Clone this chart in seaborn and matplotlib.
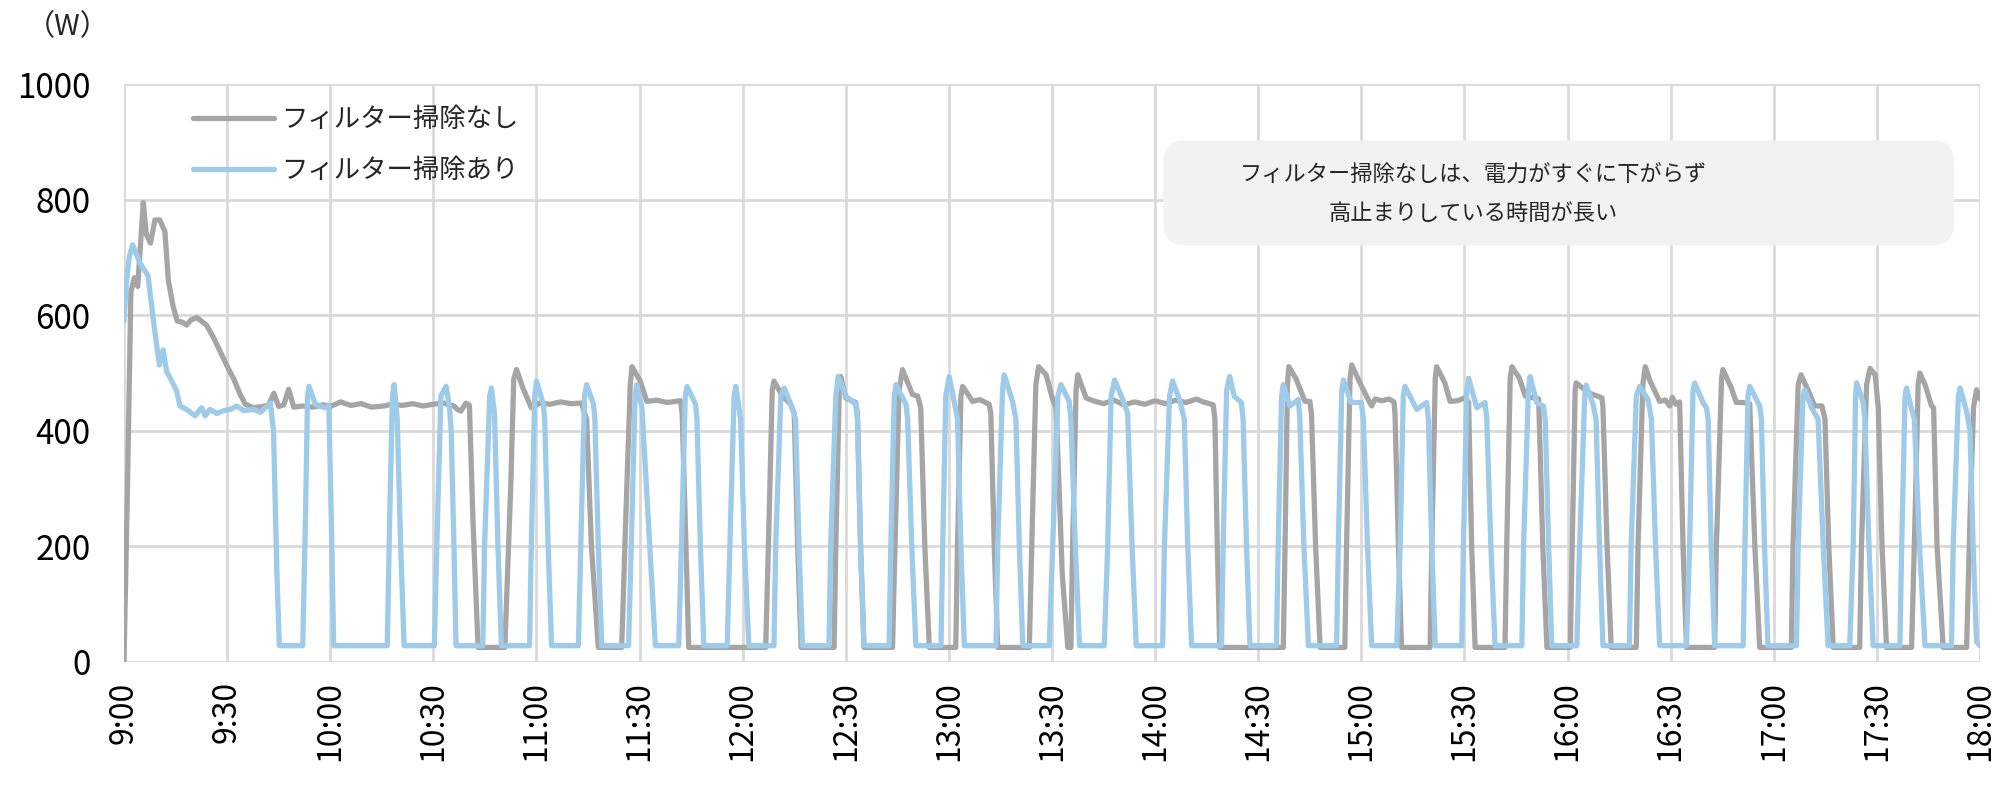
import numpy as np
import pandas as pd
import matplotlib
matplotlib.use('Agg')
import matplotlib.pyplot as plt
from matplotlib.patches import FancyBboxPatch
import seaborn as sns

# minutes after 9:00 and power (W)
gray_t = [0, 1, 2, 3, 4, 5.6, 6.5, 7.7, 9, 10.4, 11.9, 12.9, 14.3, 15.5, 17, 18.2, 19.5, 21.2, 22.5, 24,
          26, 28, 30, 31.9, 33.8, 35.3, 37.7, 40, 42, 43.6, 45, 46.5, 47.9, 49.4, 52, 55, 58, 60, 63, 66,
          69, 72, 75.7, 78, 81, 84, 87, 90, 93, 96, 97, 98, 99.5, 100.5, 101.5, 103,
          110.8, 112.5, 113.4, 114.2, 116, 118.5, 121, 124, 127, 130, 133.1, 134.6, 136, 138,
          144.8, 146, 147.3, 147.8, 150.2, 152.1, 155, 158, 161.9, 162.4, 163.5, 164.3,
          186.7, 187.7, 188.6, 189.1, 191.6, 194, 195, 196, 197,
          206.6, 207.1, 208.1, 208.5, 210, 212.9, 213.4, 214.3, 215.3,
          223.6, 224.1, 225.5, 226.5, 229.4, 230.9, 231.8, 233, 234.3,
          242, 242.5, 243.5, 244, 246.9, 249, 251.7, 252.2, 253.2, 254.2,
          263.4, 263.9, 265.3, 266.1, 268.3, 270.2, 271.2, 273, 274.6, 275.5,
          276, 277, 277.5, 279.9, 282, 285, 288, 291, 294, 297, 300, 303, 306, 309, 312, 314, 316.9, 317.4, 318.1, 318.8,
          337.3, 337.8, 338.5, 338.9, 341, 343.6, 345, 345.5, 346.7, 348,
          355.2, 355.7, 356.7, 357.2, 359.6, 361.5, 363, 364, 366, 368, 369.5, 369.8, 370.8, 371.7,
          380, 380.5, 381.5, 381.9, 384.3, 385.8, 388, 390, 391.2, 392.1, 393.1,
          401.8, 402.3, 403.3, 403.8, 406, 407.7, 410, 411.6, 412.8, 414,
          420.8, 421.5, 422.2, 422.5, 426, 430, 430.3, 431.5, 432.7,
          440, 440.5, 441.9, 442.6, 444, 446.8, 448.5, 449.7, 450.5, 451.5, 452.6, 453.6, 454.6,
          462.8, 463.3, 464.8, 465.2, 467.6, 469.1, 471, 473, 474.5, 475.9,
          485.1, 485.6, 487.1, 487.9, 490, 491.9, 494, 494.9, 496, 497.3,
          505, 505.5, 507, 508, 509.5, 510.4, 511.5, 512.8,
          520.1, 521.1, 522, 522.5, 524, 525.9, 526.5, 527.5, 529.3,
          536.1, 537.1, 538.1, 539, 540]
gray_w = [0, 300, 640, 665, 650, 795, 740, 725, 765, 765, 745, 660, 615, 590, 588, 583, 592, 596, 590, 583,
          562, 537, 512, 490, 463, 446, 440, 442, 444, 465, 442, 445, 472, 441, 443, 441, 445, 442, 450, 444,
          447, 441, 443, 446, 444, 447, 443, 446, 448, 443, 437, 434, 448, 444, 250, 25,
          25, 300, 490, 506, 475, 440, 448, 446, 450, 447, 448, 420, 200, 25,
          25, 250, 480, 511, 486, 451, 453, 449, 452, 430, 200, 25,
          25, 250, 470, 486, 460, 446, 430, 200, 25,
          25, 200, 470, 494, 457, 449, 430, 200, 25,
          25, 150, 470, 506, 463, 460, 440, 200, 25,
          25, 200, 460, 477, 451, 454, 446, 430, 200, 25,
          25, 150, 480, 511, 497, 454, 440, 150, 25, 25,
          200, 470, 497, 457, 452, 447, 453, 445, 450, 446, 452, 447, 453, 449, 455, 450, 445, 420, 200, 25,
          25, 200, 480, 511, 490, 451, 451, 430, 200, 25,
          25, 200, 490, 514, 483, 460, 443, 455, 452, 455, 450, 430, 200, 25,
          25, 200, 490, 511, 483, 451, 452, 457, 450, 200, 25,
          25, 200, 490, 511, 491, 460, 457, 455, 200, 25,
          25, 250, 470, 483, 466, 457, 440, 200, 25,
          25, 200, 480, 511, 486, 451, 453, 443, 458, 446, 450, 200, 25,
          25, 200, 490, 506, 475, 449, 449, 447, 200, 25,
          25, 200, 480, 497, 470, 443, 443, 420, 200, 25,
          25, 200, 480, 508, 497, 440, 200, 25,
          25, 250, 480, 500, 480, 443, 440, 200, 25,
          25, 250, 440, 471, 455]

blue_t = [0, 0.7, 1.5, 2.5, 4.6, 7, 8.5, 9.5, 10.3, 11.4, 12.4, 13.9, 15.3, 16.3, 18.2, 20.7, 22.6, 23.6,
          25, 27, 29, 30.9, 32.8, 34.8, 37.7, 39.7, 42.6, 43.5, 44.5, 45.2,
          52, 52.8, 53.4, 53.8, 55.7, 58.2, 59.6, 60.3, 61,
          76.6, 77.3, 78.1, 78.6, 79.5, 80.5, 81.5,
          90.3, 91, 92.2, 93.7, 94.7, 95.2, 96, 96.6,
          104.4, 104.9, 106.4, 106.9, 107.8, 108.8, 109.8,
          118, 118.5, 119.5, 120, 122, 122.4, 123.4, 124.4,
          132.2, 133.1, 134, 134.6, 136.6, 137, 138, 139,
          146.8, 147.8, 148.7, 149.2, 150.7, 152.5, 154.6,
          161.4, 162.4, 163.3, 163.8, 166.3, 166.7, 167.7, 168.7,
          175.5, 176.5, 177.5, 178, 179.4, 180.5, 181.8,
          189.1, 189.6, 191.1, 192.1, 194, 195.4, 196.4, 197.4,
          205.1, 205.6, 207.1, 207.8, 210, 212.9, 213.4, 214.3, 215.3,
          222.6, 223.1, 224.1, 224.6, 227.5, 228, 229.2, 230.4,
          237.7, 238.2, 239.1, 240.1, 241.6, 242.5, 243.5, 244.5,
          253.7, 254.2, 255.6, 256.1, 258.5, 259.5, 260.5, 261.5,
          269.2, 270.2, 271.7, 272.6, 275, 275.5, 276.8, 278,
          285.2, 286.2, 287.2, 288.2, 290.6, 292, 293.3, 294.5,
          302.2, 302.7, 304.2, 305.1, 307.1, 308.5, 309.5, 310.6,
          319.3, 319.8, 320.8, 321.7, 323, 325.1, 325.6, 326.6, 327.6,
          335.3, 335.8, 336.8, 337.3, 339.2, 341.7, 342.1, 343.3, 344.6,
          352.8, 353.3, 354.3, 354.8, 357, 360, 360.6, 361.8, 363,
          370.3, 371.3, 372.2, 372.7, 376.1, 379, 379.5, 380.5, 381.5,
          389.2, 389.7, 390.7, 391.2, 393.6, 396, 396.5, 397.7, 398.9,
          406.7, 407.2, 408.6, 409.1, 411, 413, 413.5, 414.5, 415.4,
          422.7, 423.5, 425, 425.4, 427.4, 428.3, 429.3, 430.3,
          438, 438.5, 440, 441, 443.4, 444.4, 445.6, 446.8,
          454.6, 455.5, 456.5, 457, 459.4, 460.4, 460.9, 461.8, 462.8,
          471.1, 471.6, 472.5, 473, 475.9, 476.4, 477.3, 478.3,
          486.6, 487.1, 488.5, 489, 491, 492.9, 494.4, 495.8,
          502.1, 503.1, 503.8, 504.1, 506, 506.5, 507.7, 508.9,
          516.7, 517.2, 518.2, 518.6, 520, 520.9, 522.4, 524,
          531.7, 532.2, 533.7, 534.2, 536.1, 537.1, 538, 539, 540]
blue_w = [590, 657, 700, 722, 691, 668, 594, 548, 514, 540, 503, 486, 469, 443, 437, 426, 440, 426,
          437, 430, 435, 437, 443, 435, 437, 432, 448, 400, 150, 28,
          28, 250, 460, 477, 446, 440, 443, 250, 28,
          28, 250, 460, 480, 420, 200, 28,
          28, 200, 460, 477, 440, 400, 200, 28,
          28, 200, 460, 474, 430, 200, 28,
          28, 200, 460, 486, 446, 420, 200, 28,
          28, 250, 460, 480, 446, 420, 200, 28,
          28, 250, 460, 480, 440, 250, 28,
          28, 250, 460, 477, 446, 420, 200, 28,
          28, 250, 460, 477, 420, 200, 28,
          28, 200, 460, 474, 446, 420, 200, 28,
          28, 200, 460, 494, 460, 446, 420, 200, 28,
          28, 200, 460, 480, 446, 420, 200, 28,
          28, 200, 460, 494, 449, 420, 200, 28,
          28, 200, 470, 497, 451, 420, 200, 28,
          28, 200, 460, 480, 451, 420, 200, 28,
          28, 200, 460, 488, 454, 430, 200, 28,
          28, 200, 460, 486, 454, 420, 200, 28,
          28, 200, 470, 494, 460, 449, 420, 200, 28,
          28, 200, 460, 480, 443, 454, 420, 200, 28,
          28, 200, 470, 488, 449, 449, 420, 200, 28,
          28, 200, 460, 477, 437, 449, 420, 200, 28,
          28, 200, 470, 491, 440, 449, 420, 200, 28,
          28, 200, 470, 494, 449, 443, 420, 200, 28,
          28, 200, 460, 479, 446, 420, 200, 28,
          28, 200, 460, 477, 454, 420, 200, 28,
          28, 200, 470, 483, 449, 440, 420, 200, 28,
          28, 200, 460, 477, 443, 420, 200, 28,
          28, 200, 460, 471, 440, 420, 200, 28,
          28, 200, 460, 483, 449, 420, 200, 28,
          28, 200, 460, 474, 440, 420, 200, 28,
          28, 200, 460, 474, 434, 400, 200, 35, 28]

labels = ['フィルター掃除なし', 'フィルター掃除あり']
colors = ['#a5a5a5', '#9dcbe9']
tick_min = list(range(0, 541, 30))
tick_lab = ['%d:%02d' % (9 + m // 60, m % 60) for m in tick_min]
note = 'フィルター掃除なしは、電力がすぐに下がらず\n高止まりしている時間が長い'

df = pd.concat([
    pd.DataFrame({'t': gray_t, 'w': gray_w, 's': labels[0]}),
    pd.DataFrame({'t': blue_t, 'w': blue_w, 's': labels[1]}),
], ignore_index=True)

sns.set_theme(style='whitegrid')
plt.rcParams['font.family'] = ['Noto Sans CJK JP', 'DejaVu Sans']

fig = plt.figure(figsize=(20, 7.87), dpi=100)
ax = fig.add_axes([0.062, 0.159, 0.928, 0.734])

sns.lineplot(data=df, x='t', y='w', hue='s', palette=colors, estimator=None,
             sort=False, lw=3.8, ax=ax)

ax.set_xlim(0, 540)
ax.set_ylim(0, 1000)
ax.set_xticks(tick_min)
ax.set_xticklabels(tick_lab, rotation=90)
ax.set_yticks(range(0, 1001, 200))
ax.set_xlabel('')
ax.set_ylabel('')
ax.tick_params(axis='both', length=0, colors='black')
ax.tick_params(axis='y', pad=24, labelsize=24)
ax.tick_params(axis='x', pad=14, labelsize=23)
ax.grid(True, color='#d9d9d9', lw=2)
for s in ax.spines.values():
    s.set_visible(False)
ax.set_facecolor('white')

h, l = ax.get_legend_handles_labels()
ax.legend(h, l, loc='upper left', bbox_to_anchor=(0.037, 0.962), frameon=False,
          fontsize=19, handlelength=3.1, handletextpad=0.25, labelspacing=0.9,
          borderaxespad=0, borderpad=0)

box = FancyBboxPatch((0.560, 0.721), 0.426, 0.182, boxstyle='round,pad=0,rounding_size=0.012',
                     transform=ax.transAxes, facecolor='#f2f2f2', edgecolor='none',
                     mutation_aspect=3.2, zorder=3)
ax.add_patch(box)
ax.text(0.727, 0.809, note, transform=ax.transAxes, ha='center', va='center',
        fontsize=16, linespacing=1.85, multialignment='center', zorder=4)

fig.text(0.013, 0.966, '（W）', fontsize=21, va='center', ha='left')

fig.savefig('out.png', dpi=100, facecolor='white')
